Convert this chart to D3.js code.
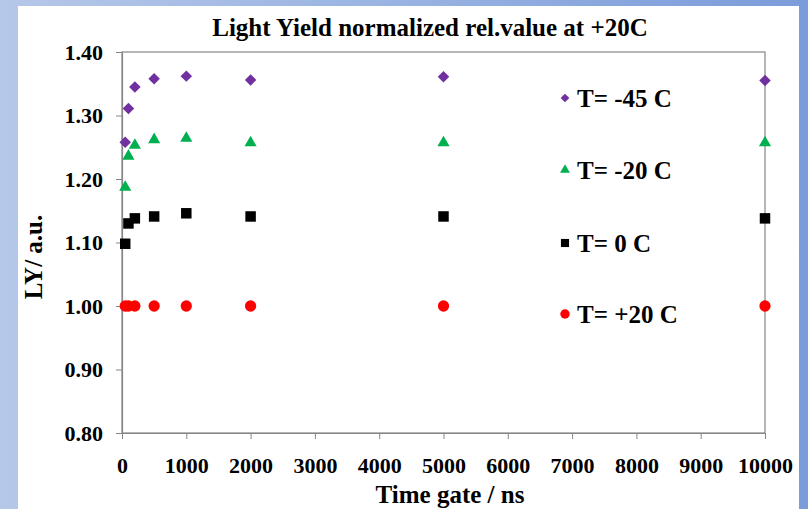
<!DOCTYPE html>
<html>
<head>
<meta charset="utf-8">
<script src="https://cdn.jsdelivr.net/npm/d3@7"></script>
<style>
  body { margin: 0; padding: 0; }
  svg { display: block; }
  text { font-family: "Liberation Serif", "Times New Roman", serif; font-weight: bold; }
</style>
</head>
<body>
<script>
// time gates in ns
var gates = [50, 100, 200, 500, 1000, 2000, 5000, 10000];

// light yield, normalised to +20 C
var ly_m45 = [1.258, 1.311, 1.345, 1.358, 1.362, 1.356, 1.361, 1.355];
var ly_m20 = [1.187, 1.236, 1.253, 1.262, 1.264, 1.257, 1.257, 1.257];
var ly_0   = [1.098, 1.130, 1.138, 1.141, 1.146, 1.141, 1.141, 1.138];
var ly_p20 = [1.000, 1.000, 1.000, 1.000, 1.000, 1.000, 1.000, 1.000];

var seriesNames = ["T= -45 C", "T= -20 C", "T= 0 C", "T= +20 C"];
var xTicks = [0, 1000, 2000, 3000, 4000, 5000, 6000, 7000, 8000, 9000, 10000];
var yTicks = [0.80, 0.90, 1.00, 1.10, 1.20, 1.30, 1.40];

// diamond = square turned by 45 degrees, rot holds the turn
var series = [
  {name: seriesNames[0], values: ly_m45, color: "#7030a0", shape: d3.symbolSquare,   rot: 45, size: 66, lsize: 38},
  {name: seriesNames[1], values: ly_m20, color: "#00b050", shape: d3.symbolTriangle, rot: 0,  size: 64, lsize: 42},
  {name: seriesNames[2], values: ly_0,   color: "#000000", shape: d3.symbolSquare,   rot: 0,  size: 110, lsize: 66},
  {name: seriesNames[3], values: ly_p20, color: "#ff0000", shape: d3.symbolCircle,   rot: 0,  size: 100, lsize: 70}
];

var W = 808, H = 509;
var margin = {top: 52, right: 43, bottom: 76, left: 122},
    width = 765 - margin.left,
    height = 433 - margin.top;

var svg = d3.select("body").append("svg")
    .attr("width", W)
    .attr("height", H);

// blue slide background
var grad = svg.append("defs").append("linearGradient")
    .attr("id", "bg").attr("x1", "0%").attr("x2", "100%").attr("y1", "0%").attr("y2", "0%");
grad.append("stop").attr("offset", "0%").attr("stop-color", "#b6c8e9");
grad.append("stop").attr("offset", "100%").attr("stop-color", "#7b9cda");
svg.append("rect").attr("width", W).attr("height", H).attr("fill", "url(#bg)");

// white chart panel
svg.append("rect")
    .attr("x", 18).attr("y", 6)
    .attr("width", 781).attr("height", H - 6)
    .attr("fill", "#ffffff");

var g = svg.append("g")
    .attr("transform", "translate(" + margin.left + "," + margin.top + ")");

var x = d3.scaleLinear().domain([0, 10000]).range([0, width]);
var y = d3.scaleLinear().domain([0.8, 1.4]).range([height, 0]);

// plot area border
g.append("rect")
    .attr("width", width).attr("height", height)
    .attr("fill", "none").attr("stroke", "#868686").attr("stroke-width", 1.2);

var xAxis = g.append("g")
    .attr("transform", "translate(0," + height + ")")
    .call(d3.axisBottom(x).tickValues(xTicks).tickSize(6).tickSizeOuter(0).tickPadding(18).tickFormat(d3.format("d")));

var yAxis = g.append("g")
    .call(d3.axisLeft(y).tickValues(yTicks).tickSize(6).tickSizeOuter(0).tickPadding(13).tickFormat(d3.format(".2f")));

[xAxis, yAxis].forEach(function(a) {
  a.select(".domain").attr("stroke", "#868686").attr("stroke-width", 1.2);
  a.selectAll(".tick line").attr("stroke", "#868686");
  a.selectAll(".tick text")
    .attr("fill", "#000")
    .style("font-family", '"Liberation Serif", serif')
    .style("font-weight", "bold")
    .style("font-size", "22px");
});

// markers
series.forEach(function(s) {
  g.append("g").selectAll("path")
    .data(s.values)
    .enter().append("path")
    .attr("transform", function(d, i) {
      return "translate(" + x(gates[i]) + "," + y(d) + ") rotate(" + s.rot + ")";
    })
    .attr("d", d3.symbol().type(s.shape).size(s.size))
    .attr("fill", s.color);
});

// legend
var legendY = [98, 170, 243, 314];
var legend = svg.append("g").attr("transform", "translate(565,0)");
series.forEach(function(s, i) {
  var row = legend.append("g").attr("transform", "translate(0," + legendY[i] + ")");
  row.append("path")
    .attr("transform", "rotate(" + s.rot + ")")
    .attr("d", d3.symbol().type(s.shape).size(s.lsize))
    .attr("fill", s.color);
  row.append("text")
    .attr("x", 12).attr("y", 9)
    .style("font-size", "25px")
    .text(s.name);
});

// title and axis labels
svg.append("text")
    .attr("x", 430).attr("y", 36)
    .attr("text-anchor", "middle")
    .style("font-size", "25px")
    .text("Light Yield normalized rel.value at +20C");

svg.append("text")
    .attr("x", 450).attr("y", 503)
    .attr("text-anchor", "middle")
    .style("font-size", "25px")
    .text("Time gate / ns");

svg.append("text")
    .attr("transform", "translate(42,257) rotate(-90)")
    .attr("text-anchor", "middle")
    .style("font-size", "25px")
    .text("LY/ a.u.");
</script>
</body>
</html>
